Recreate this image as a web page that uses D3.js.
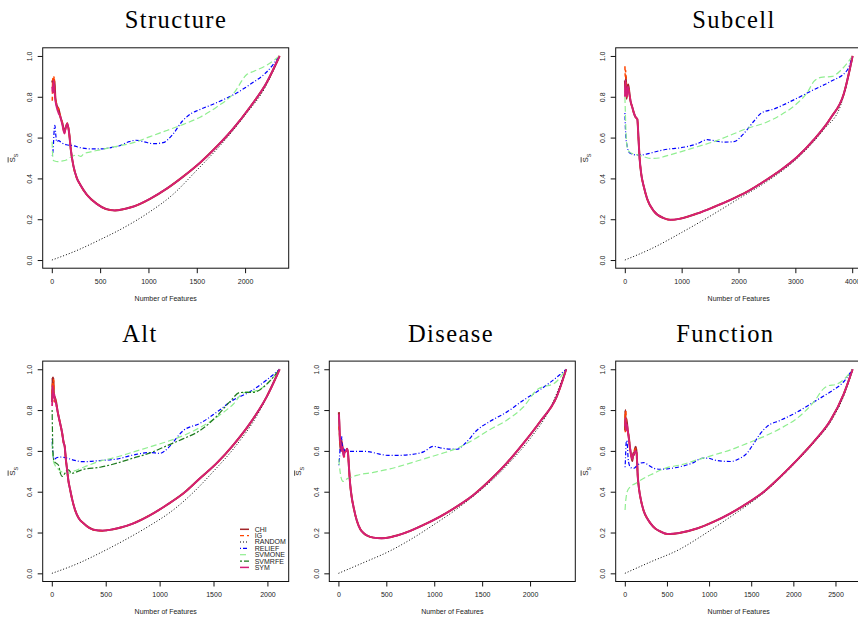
<!DOCTYPE html>
<html>
<head>
<meta charset="utf-8">
<script src="https://cdn.jsdelivr.net/npm/d3@7"></script>
<style>
  body { margin: 0; background: #fff; }
  svg { display: block; }
  .tick text, .lab, .legend text { font-family: "Liberation Sans", Arial, sans-serif; fill: #222; }
  .title { font-family: "Liberation Serif", "DejaVu Serif", serif; fill: #000; }
</style>
</head>
<body>
<svg id="chart" width="858" height="617"></svg>
<script>
// ---- Data (number of features, mean similarity) ----
const methods = ["CHI", "IG", "RANDOM", "RELIEF", "SVMONE", "SVMRFE", "SYM"];
const yTicks = [0, 0.2, 0.4, 0.6, 0.8, 1.0];

// Structure
const structureXTicks = [0, 500, 1000, 1500, 2000];
const structureChiHead = [[3,0.87],[8,0.88],[14,0.86],[20,0.84],[28,0.88],[36,0.80],[50,0.76],[70,0.74],[90,0.70],[110,0.67],[130,0.63],[145,0.65],[160,0.67]];
const structureIgHead = [[5,0.78],[10,0.89],[16,0.82],[24,0.90],[30,0.83],[40,0.79],[55,0.75],[70,0.74],[90,0.70],[110,0.67],[130,0.62],[145,0.65],[160,0.67]];
const structureSymHead = [[3,0.85],[10,0.82],[18,0.88],[26,0.84],[35,0.79],[50,0.75],[70,0.72],[90,0.70],[110,0.66],[130,0.62],[145,0.65],[160,0.67]];
const structureTail = [[180,0.62],[197,0.54],[224,0.46],[260,0.40],[293,0.37],[362,0.32],[466,0.275],[560,0.25],[650,0.243],[750,0.25],[845,0.262],[1017,0.30],[1190,0.35],[1362,0.41],[1534,0.477],[1707,0.556],[1879,0.645],[2052,0.75],[2224,0.87],[2357,1.0]];
const structureRandom = [[1,0],[250,0.045],[500,0.1],[750,0.16],[1000,0.232],[1250,0.32],[1500,0.44],[1750,0.565],[2000,0.71],[2200,0.84],[2357,1.0]];
const structureRelief = [[5,0.51],[15,0.55],[25,0.64],[32,0.66],[40,0.62],[50,0.58],[70,0.585],[100,0.575],[150,0.565],[224,0.56],[300,0.55],[400,0.545],[500,0.545],[600,0.55],[700,0.56],[800,0.58],[870,0.587],[950,0.58],[1050,0.57],[1150,0.575],[1250,0.615],[1350,0.68],[1450,0.72],[1520,0.735],[1700,0.77],[1880,0.81],[2050,0.86],[2220,0.92],[2357,1.0]];
const structureSvmone = [[3,0.58],[8,0.52],[15,0.49],[30,0.485],[60,0.482],[100,0.485],[150,0.49],[200,0.505],[260,0.515],[300,0.508],[330,0.52],[400,0.53],[500,0.54],[600,0.55],[700,0.56],[845,0.575],[1017,0.605],[1190,0.635],[1362,0.665],[1534,0.70],[1707,0.75],[1879,0.815],[2020,0.91],[2090,0.925],[2224,0.955],[2357,1.0]];

// Subcell
const subcellXTicks = [0, 1000, 2000, 3000, 4000];
const subcellChiHead = [[2,0.88],[10,0.82],[20,0.90],[30,0.79],[45,0.84],[60,0.86],[80,0.82],[100,0.78],[130,0.75],[160,0.72],[190,0.70],[220,0.69]];
const subcellIgHead = [[2,0.95],[8,0.90],[15,0.93],[25,0.84],[40,0.80],[60,0.85],[80,0.82],[100,0.78],[130,0.75],[160,0.72],[190,0.70],[220,0.69]];
const subcellSymHead = [[2,0.80],[10,0.88],[20,0.84],[35,0.80],[55,0.85],[75,0.82],[100,0.78],[130,0.75],[160,0.72],[190,0.70],[220,0.69]];
const subcellTail = [[240,0.60],[260,0.50],[290,0.42],[334,0.36],[393,0.30],[510,0.24],[686,0.205],[803,0.197],[979,0.203],[1273,0.228],[1566,0.26],[1859,0.295],[2152,0.335],[2446,0.385],[2739,0.44],[3032,0.505],[3326,0.59],[3619,0.695],[3853,0.815],[4007,1.0]];
const subcellRandom = [[1,0],[500,0.06],[1000,0.135],[1500,0.215],[2000,0.3],[2500,0.385],[3000,0.49],[3500,0.64],[3800,0.76],[4007,1.0]];
const subcellRelief = [[2,0.72],[10,0.65],[20,0.6],[40,0.56],[70,0.53],[120,0.52],[200,0.515],[300,0.515],[393,0.52],[600,0.535],[800,0.545],[979,0.55],[1273,0.57],[1449,0.59],[1566,0.585],[1742,0.578],[1918,0.58],[2094,0.62],[2270,0.68],[2400,0.72],[2622,0.74],[2973,0.785],[3326,0.835],[3619,0.875],[3912,0.93],[4007,1.0]];
const subcellSvmone = [[2,0.80],[10,0.72],[25,0.6],[45,0.55],[80,0.53],[150,0.52],[246,0.515],[350,0.505],[450,0.498],[600,0.50],[700,0.508],[979,0.53],[1273,0.555],[1566,0.58],[1859,0.612],[2152,0.645],[2446,0.67],[2739,0.71],[3032,0.768],[3208,0.82],[3326,0.875],[3450,0.895],[3650,0.9],[3800,0.93],[4007,1.0]];

// Alt
const altXTicks = [0, 500, 1000, 1500, 2000];
const altChiHead = [[3,0.84],[6,0.96],[10,0.90],[14,0.96],[20,0.87],[30,0.86],[40,0.84],[55,0.79],[75,0.74],[95,0.69],[110,0.64],[120,0.62]];
const altIgHead = [[3,0.88],[7,0.93],[12,0.86],[17,0.95],[22,0.84],[30,0.86],[40,0.83],[55,0.79],[75,0.74],[95,0.69],[110,0.64],[120,0.62]];
const altSymHead = [[3,0.82],[8,0.92],[14,0.86],[22,0.88],[30,0.85],[40,0.83],[55,0.79],[75,0.74],[95,0.69],[110,0.64],[120,0.62]];
const altTail = [[130,0.56],[139,0.52],[155,0.45],[170,0.41],[190,0.36],[216,0.31],[250,0.27],[294,0.245],[386,0.214],[470,0.209],[560,0.215],[650,0.226],[757,0.245],[912,0.285],[1066,0.335],[1221,0.392],[1375,0.466],[1530,0.54],[1685,0.63],[1839,0.735],[1994,0.866],[2113,1.0]];
const altRandom = [[1,0],[250,0.05],[448,0.1],[700,0.17],[912,0.235],[1100,0.3],[1300,0.39],[1500,0.5],[1700,0.62],[1900,0.77],[2113,1.0]];
const altRelief = [[3,0.66],[8,0.6],[15,0.57],[25,0.56],[40,0.565],[80,0.57],[139,0.565],[200,0.555],[294,0.547],[448,0.553],[603,0.56],[757,0.58],[912,0.592],[1004,0.588],[1050,0.6],[1097,0.625],[1221,0.70],[1375,0.735],[1530,0.79],[1685,0.85],[1839,0.89],[1994,0.948],[2113,1.0]];
const altSvmone = [[3,0.64],[8,0.58],[15,0.55],[30,0.53],[60,0.51],[100,0.495],[150,0.49],[200,0.5],[294,0.52],[448,0.55],[603,0.57],[757,0.595],[912,0.62],[1066,0.645],[1221,0.675],[1375,0.715],[1530,0.765],[1685,0.83],[1780,0.885],[1900,0.895],[2000,0.93],[2113,1.0]];
const altSvmrfe = [[3,0.80],[6,0.7],[10,0.6],[20,0.55],[40,0.54],[62,0.53],[80,0.49],[95,0.475],[110,0.48],[130,0.5],[155,0.507],[185,0.49],[220,0.495],[294,0.51],[448,0.52],[603,0.54],[757,0.565],[912,0.59],[1066,0.625],[1221,0.66],[1375,0.70],[1530,0.77],[1650,0.84],[1746,0.886],[1870,0.887],[1932,0.9],[2000,0.93],[2113,1.0]];

// Disease
const diseaseXTicks = [0, 500, 1000, 1500, 2000];
const diseaseChiHead = [[5,0.79],[10,0.72],[15,0.66],[20,0.62],[28,0.60],[35,0.64],[45,0.61],[55,0.58],[65,0.60],[80,0.60],[90,0.61],[100,0.59]];
const diseaseIgHead = [[5,0.72],[12,0.68],[18,0.64],[25,0.61],[32,0.66],[40,0.63],[50,0.59],[60,0.57],[70,0.59],[80,0.60],[90,0.61],[100,0.59]];
const diseaseSymHead = [[4,0.78],[10,0.74],[18,0.65],[26,0.63],[34,0.60],[44,0.62],[55,0.57],[65,0.59],[80,0.60],[90,0.61],[100,0.59]];
const diseaseTail = [[110,0.52],[122,0.44],[140,0.37],[157,0.327],[191,0.26],[230,0.215],[261,0.198],[300,0.185],[365,0.175],[450,0.172],[550,0.178],[609,0.185],[750,0.208],[887,0.237],[1061,0.278],[1235,0.327],[1409,0.384],[1583,0.457],[1756,0.54],[1930,0.637],[2104,0.743],[2278,0.866],[2377,1.0]];
const diseaseRandom = [[1,0],[250,0.05],[539,0.11],[750,0.165],[1000,0.24],[1235,0.315],[1400,0.375],[1600,0.455],[1800,0.55],[2000,0.66],[2200,0.8],[2377,1.0]];
const diseaseRelief = [[5,0.53],[12,0.57],[20,0.62],[28,0.61],[35,0.67],[42,0.60],[55,0.61],[70,0.60],[120,0.598],[191,0.598],[270,0.598],[330,0.595],[420,0.585],[520,0.578],[609,0.578],[750,0.582],[887,0.595],[991,0.622],[1096,0.612],[1235,0.608],[1330,0.64],[1443,0.70],[1583,0.745],[1756,0.79],[1930,0.848],[2104,0.9],[2250,0.95],[2377,1.0]];
const diseaseSvmone = [[4,0.56],[10,0.53],[20,0.49],[42,0.452],[60,0.45],[87,0.462],[130,0.47],[191,0.48],[365,0.495],[539,0.512],[713,0.535],[887,0.56],[1061,0.585],[1235,0.612],[1409,0.655],[1583,0.705],[1756,0.75],[1930,0.815],[2087,0.905],[2150,0.915],[2250,0.93],[2377,1.0]];

// Function
const functionXTicks = [0, 500, 1000, 1500, 2000, 2500];
const functionChiHead = [[3,0.70],[6,0.80],[10,0.72],[16,0.76],[25,0.74],[35,0.70],[47,0.67],[60,0.62],[75,0.58],[90,0.55],[100,0.59],[110,0.58],[120,0.61],[130,0.62],[140,0.59]];
const functionIgHead = [[3,0.78],[7,0.69],[11,0.80],[18,0.73],[25,0.72],[35,0.70],[47,0.67],[60,0.62],[75,0.58],[88,0.56],[100,0.58],[115,0.60],[127,0.61],[140,0.59]];
const functionSymHead = [[3,0.72],[9,0.76],[15,0.70],[25,0.73],[35,0.70],[47,0.66],[60,0.62],[75,0.58],[88,0.56],[100,0.58],[115,0.59],[127,0.60],[140,0.59]];
const functionTail = [[154,0.474],[170,0.41],[186,0.37],[225,0.305],[265,0.27],[305,0.245],[360,0.22],[423,0.205],[502,0.193],[580,0.194],[661,0.199],[858,0.22],[1056,0.253],[1254,0.294],[1452,0.343],[1650,0.40],[1847,0.474],[2045,0.556],[2243,0.645],[2441,0.75],[2599,0.88],[2703,1.0]];
const functionRandom = [[1,0],[300,0.055],[661,0.12],[900,0.18],[1056,0.222],[1300,0.29],[1452,0.333],[1650,0.395],[1850,0.47],[2050,0.553],[2250,0.643],[2450,0.748],[2600,0.872],[2703,1.0]];
const functionRelief = [[3,0.52],[8,0.56],[14,0.63],[22,0.65],[30,0.63],[40,0.56],[59,0.525],[90,0.515],[107,0.515],[150,0.53],[186,0.54],[225,0.543],[280,0.53],[344,0.515],[420,0.51],[500,0.512],[661,0.523],[800,0.54],[930,0.565],[980,0.565],[1056,0.556],[1150,0.55],[1254,0.548],[1350,0.56],[1452,0.59],[1531,0.637],[1600,0.68],[1689,0.72],[1847,0.75],[2045,0.79],[2243,0.84],[2441,0.89],[2600,0.94],[2703,1.0]];
const functionSvmone = [[3,0.31],[8,0.343],[15,0.37],[28,0.40],[67,0.425],[127,0.44],[225,0.466],[344,0.49],[420,0.505],[502,0.518],[661,0.531],[858,0.556],[1056,0.58],[1254,0.605],[1452,0.637],[1650,0.67],[1847,0.71],[2045,0.76],[2243,0.84],[2360,0.905],[2420,0.92],[2500,0.925],[2600,0.95],[2703,1.0]];

// ---- Styles ----
const methodColor = ["#a3262a", "#ff4500", "#000000", "#0000ff", "#90ee90", "#1e7b1e", "#d41f78"];
const methodDash = [null, "4,3", "1,2", "1,2,4,2", "6,3", "2,2,6,2", null];
const methodWidth = [2, 1.5, 1, 1.2, 1.2, 1.2, 1.8];

// ---- Layout ----
const boxW = 246, boxH = 220.4;
const colX = [42.7, 329.3, 615.7];
const rowY = [47.8, 361.1];
const titleBase = [28.3, 342];

const panels = [
  { name: "Structure", col: 0, row: 0, titleX: 176, xMax: 2357, xTicks: structureXTicks,
    series: { CHI: structureChiHead.concat(structureTail), IG: structureIgHead.concat(structureTail),
      RANDOM: structureRandom, RELIEF: structureRelief, SVMONE: structureSvmone, SYM: structureSymHead.concat(structureTail) } },
  { name: "Subcell", col: 2, row: 0, titleX: 734, xMax: 4007, xTicks: subcellXTicks,
    series: { CHI: subcellChiHead.concat(subcellTail), IG: subcellIgHead.concat(subcellTail),
      RANDOM: subcellRandom, RELIEF: subcellRelief, SVMONE: subcellSvmone, SYM: subcellSymHead.concat(subcellTail) } },
  { name: "Alt", col: 0, row: 1, titleX: 140, xMax: 2113, xTicks: altXTicks, legend: true,
    series: { CHI: altChiHead.concat(altTail), IG: altIgHead.concat(altTail),
      RANDOM: altRandom, RELIEF: altRelief, SVMONE: altSvmone, SVMRFE: altSvmrfe, SYM: altSymHead.concat(altTail) } },
  { name: "Disease", col: 1, row: 1, titleX: 451, xMax: 2377, xTicks: diseaseXTicks,
    series: { CHI: diseaseChiHead.concat(diseaseTail), IG: diseaseIgHead.concat(diseaseTail),
      RANDOM: diseaseRandom, RELIEF: diseaseRelief, SVMONE: diseaseSvmone, SYM: diseaseSymHead.concat(diseaseTail) } },
  { name: "Function", col: 2, row: 1, titleX: 725.3, xMax: 2703, xTicks: functionXTicks,
    series: { CHI: functionChiHead.concat(functionTail), IG: functionIgHead.concat(functionTail),
      RANDOM: functionRandom, RELIEF: functionRelief, SVMONE: functionSvmone, SYM: functionSymHead.concat(functionTail) } },
];

const svg = d3.select("#chart");

// Titles
svg.selectAll(".title")
  .data(panels)
  .join("text")
  .attr("class", "title")
  .attr("x", (d) => d.titleX)
  .attr("y", (d) => titleBase[d.row])
  .attr("text-anchor", "middle")
  .style("font-size", "24.5px")
  .style("letter-spacing", "1.4px")
  .text((d) => d.name);

panels.forEach((p) => {
  const g = svg.append("g").attr("transform", `translate(${colX[p.col]}, ${rowY[p.row]})`);

  // R style scales: 4% padding on each side
  const xScale = d3.scaleLinear().domain([-0.04 * p.xMax, 1.04 * p.xMax]).range([0, boxW]);
  const yScale = d3.scaleLinear().domain([-0.04, 1.04]).range([boxH, 0]);

  // Axes
  const xAxis = d3.axisBottom(xScale).tickValues(p.xTicks).tickFormat(d3.format("d"))
    .tickSize(5).tickPadding(6).tickSizeOuter(0);
  g.append("g").attr("transform", `translate(0, ${boxH})`).call(xAxis);

  const yAxis = d3.axisLeft(yScale).tickValues(yTicks).tickFormat(d3.format(".1f"))
    .tickSize(5).tickSizeOuter(0);
  const ya = g.append("g").call(yAxis);
  ya.selectAll(".tick text")
    .attr("x", 0).attr("y", 0).attr("dy", null)
    .attr("text-anchor", "middle")
    .attr("transform", "translate(-10.5, 0) rotate(-90)");

  g.selectAll(".domain").remove();
  g.selectAll(".tick line").attr("stroke", "#111");
  g.selectAll(".tick text").style("font-size", "7px");

  // Box
  g.append("rect")
    .attr("width", boxW).attr("height", boxH)
    .attr("fill", "none").attr("stroke", "#111").attr("stroke-width", 1);

  // Axis labels
  g.append("text").attr("class", "lab")
    .attr("x", boxW / 2).attr("y", boxH + 32.5)
    .attr("text-anchor", "middle").style("font-size", "7px")
    .text("Number of Features");

  const yl = g.append("text").attr("class", "lab")
    .attr("transform", `translate(-28, ${boxH / 2}) rotate(-90)`)
    .attr("text-anchor", "middle").style("font-size", "8px");
  yl.append("tspan").style("text-decoration", "overline").text("S");
  yl.append("tspan").attr("baseline-shift", "sub").style("font-size", "5.5px").text("S");

  // Lines
  const line = d3.line()
    .x((d) => xScale(d[0]))
    .y((d) => yScale(d[1]))
    .curve(d3.curveMonotoneX);

  methods.forEach((m, i) => {
    const data = p.series[m];
    if (!data) return;
    g.append("path")
      .datum(data)
      .attr("fill", "none")
      .attr("stroke", methodColor[i])
      .attr("stroke-width", methodWidth[i])
      .attr("stroke-dasharray", methodDash[i])
      .attr("stroke-linejoin", "round")
      .attr("d", line);
  });

  // Legend
  if (p.legend) {
    const lg = g.append("g").attr("class", "legend").attr("transform", `translate(${boxW - 48.7}, 168.2)`);
    methods.forEach((m, i) => {
      const row = lg.append("g").attr("transform", `translate(0, ${i * 6.35})`);
      row.append("line")
        .attr("x1", 0).attr("x2", 9)
        .attr("stroke", methodColor[i])
        .attr("stroke-width", methodWidth[i] > 1.5 ? 1.5 : 1.2)
        .attr("stroke-dasharray", methodDash[i]);
      row.append("text").attr("x", 14.7).attr("dy", "0.35em")
        .style("font-size", "7px").text(m);
    });
  }
});
</script>
</body>
</html>
